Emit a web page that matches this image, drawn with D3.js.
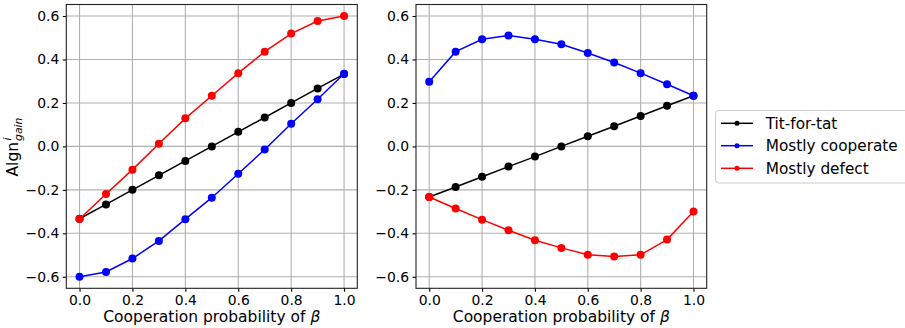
<!DOCTYPE html>
<html>
<head>
<meta charset="utf-8">
<script src="https://cdn.jsdelivr.net/npm/d3@7"></script>
<style>
  html, body { margin: 0; padding: 0; background: #fff; }
  svg { display: block; font-family: "DejaVu Sans", sans-serif; }
</style>
</head>
<body>
<svg id="chart" width="905" height="328"></svg>
<script>
// ---- Data ----
const beta = [0.0, 0.1, 0.2, 0.3, 0.4, 0.5, 0.6, 0.7, 0.8, 0.9, 1.0];

const leftTitForTat    = [-0.333, -0.267, -0.2, -0.133, -0.067, 0.0, 0.067, 0.133, 0.2, 0.267, 0.333];
const leftMostlyCoop   = [-0.6, -0.578, -0.516, -0.435, -0.335, -0.236, -0.126, -0.014, 0.104, 0.217, 0.334];
const leftMostlyDefect = [-0.334, -0.219, -0.107, 0.012, 0.129, 0.233, 0.337, 0.436, 0.519, 0.577, 0.6];

const rightTitForTat    = [-0.233, -0.187, -0.14, -0.093, -0.047, 0.0, 0.047, 0.093, 0.14, 0.187, 0.233];
const rightMostlyCoop   = [0.298, 0.436, 0.493, 0.51, 0.493, 0.47, 0.43, 0.386, 0.337, 0.286, 0.233];
const rightMostlyDefect = [-0.233, -0.286, -0.337, -0.386, -0.432, -0.467, -0.499, -0.507, -0.499, -0.429, -0.3];

const seriesNames  = ["Tit-for-tat", "Mostly cooperate", "Mostly defect"];
const seriesColors = ["#000000", "#0000ff", "#ff0000"];

const xTicks = [0.0, 0.2, 0.4, 0.6, 0.8, 1.0];
const yTicks = [-0.6, -0.4, -0.2, 0.0, 0.2, 0.4, 0.6];

const xLabel = "Cooperation probability of ";
const xLabelSym = "β";

// ---- Layout ----
const svg = d3.select("#chart");
const tickFont = 13.9, labelFont = 15.5, legendFont = 15.3;
const plotTop = 4.5, plotBottom = 288.3;
const panels = [
  { x0: 66.3, x1: 357.3, data: [leftTitForTat, leftMostlyCoop, leftMostlyDefect] },
  { x0: 416.0, x1: 706.7, data: [rightTitForTat, rightMostlyCoop, rightMostlyDefect] }
];

panels.forEach((p, pi) => {
  const x = d3.scaleLinear().domain([-0.05, 1.05]).range([p.x0, p.x1]);
  const y = d3.scaleLinear().domain([-0.653, 0.653]).range([plotBottom, plotTop]);
  const g = svg.append("g");

  // grid
  g.append("g").selectAll("line").data(xTicks).join("line")
    .attr("x1", d => x(d)).attr("x2", d => x(d))
    .attr("y1", plotTop).attr("y2", plotBottom)
    .attr("stroke", "#b0b0b0").attr("stroke-width", 1.1);
  g.append("g").selectAll("line").data(yTicks).join("line")
    .attr("x1", p.x0).attr("x2", p.x1)
    .attr("y1", d => y(d)).attr("y2", d => y(d))
    .attr("stroke", "#b0b0b0").attr("stroke-width", 1.1);

  // axes
  const fmt = d3.format(".1f");
  const ax = g.append("g").attr("transform", `translate(0,${plotBottom})`)
    .call(d3.axisBottom(x).tickValues(xTicks).tickFormat(fmt).tickSize(3.5).tickPadding(3.5));
  const ay = g.append("g").attr("transform", `translate(${p.x0},0)`)
    .call(d3.axisLeft(y).tickValues(yTicks).tickFormat(fmt).tickSize(3.5).tickPadding(3.5));
  [ax, ay].forEach(a => {
    a.select(".domain").remove();
    a.selectAll(".tick line").attr("stroke", "#000").attr("stroke-width", 1.1);
    a.selectAll(".tick text").attr("fill", "#000")
      .style("font-family", "DejaVu Sans").style("font-size", tickFont + "px");
  });

  // series
  const line = d3.line().x((d, i) => x(beta[i])).y(d => y(d));
  p.data.forEach((vals, si) => {
    const sg = g.append("g");
    sg.append("path").datum(vals).attr("d", line)
      .attr("fill", "none").attr("stroke", seriesColors[si]).attr("stroke-width", 1.5);
    sg.selectAll("circle").data(vals).join("circle")
      .attr("cx", (d, i) => x(beta[i])).attr("cy", d => y(d)).attr("r", 4)
      .attr("fill", seriesColors[si]);
  });

  // frame
  g.append("rect").attr("x", p.x0).attr("y", plotTop)
    .attr("width", p.x1 - p.x0).attr("height", plotBottom - plotTop)
    .attr("fill", "none").attr("stroke", "#222").attr("stroke-width", 1.1);

  // x label
  const t = g.append("text")
    .attr("x", (p.x0 + p.x1) / 2).attr("y", 321.5)
    .attr("text-anchor", "middle").style("font-size", labelFont + "px").attr("fill", "#000");
  t.append("tspan").text(xLabel);
  t.append("tspan").style("font-style", "italic").text(xLabelSym);
});

// y label (Algn^i_gain), rotated
{
  const lg = svg.append("g").attr("transform", "translate(18,147) rotate(-90)");
  const subFont = labelFont * 0.7;
  const main = lg.append("text").style("font-size", labelFont + "px").attr("fill", "#000").text("Algn");
  const sup = lg.append("text").style("font-size", subFont + "px").style("font-style", "italic").attr("fill", "#000").text("i");
  const sub = lg.append("text").style("font-size", subFont + "px").style("font-style", "italic").attr("fill", "#000").text("gain");
  const wMain = main.node().getComputedTextLength();
  const wSub = sub.node().getComputedTextLength();
  const total = wMain + 1 + wSub;
  const x0 = -total / 2;
  main.attr("x", x0).attr("y", 0);
  sup.attr("x", x0 + wMain + 1.5).attr("y", -7);
  sub.attr("x", x0 + wMain + 1).attr("y", 3.5);
}

// legend
{
  const lg = svg.append("g");
  lg.append("rect").attr("x", 715.5).attr("y", 110.5).attr("width", 200).attr("height", 72.5)
    .attr("rx", 3).attr("fill", "#fff").attr("stroke", "#cccccc").attr("stroke-width", 1);
  const rows = [123.3, 145.7, 168.3];
  seriesNames.forEach((name, i) => {
    const yy = rows[i];
    lg.append("line").attr("x1", 721).attr("x2", 753).attr("y1", yy).attr("y2", yy)
      .attr("stroke", seriesColors[i]).attr("stroke-width", 1.5);
    lg.append("circle").attr("cx", 737).attr("cy", yy).attr("r", 2.5).attr("fill", seriesColors[i]);
    lg.append("text").attr("x", 765.7).attr("y", yy).attr("dy", "0.35em")
      .style("font-size", legendFont + "px").attr("fill", "#000").text(name);
  });
}
</script>
</body>
</html>
